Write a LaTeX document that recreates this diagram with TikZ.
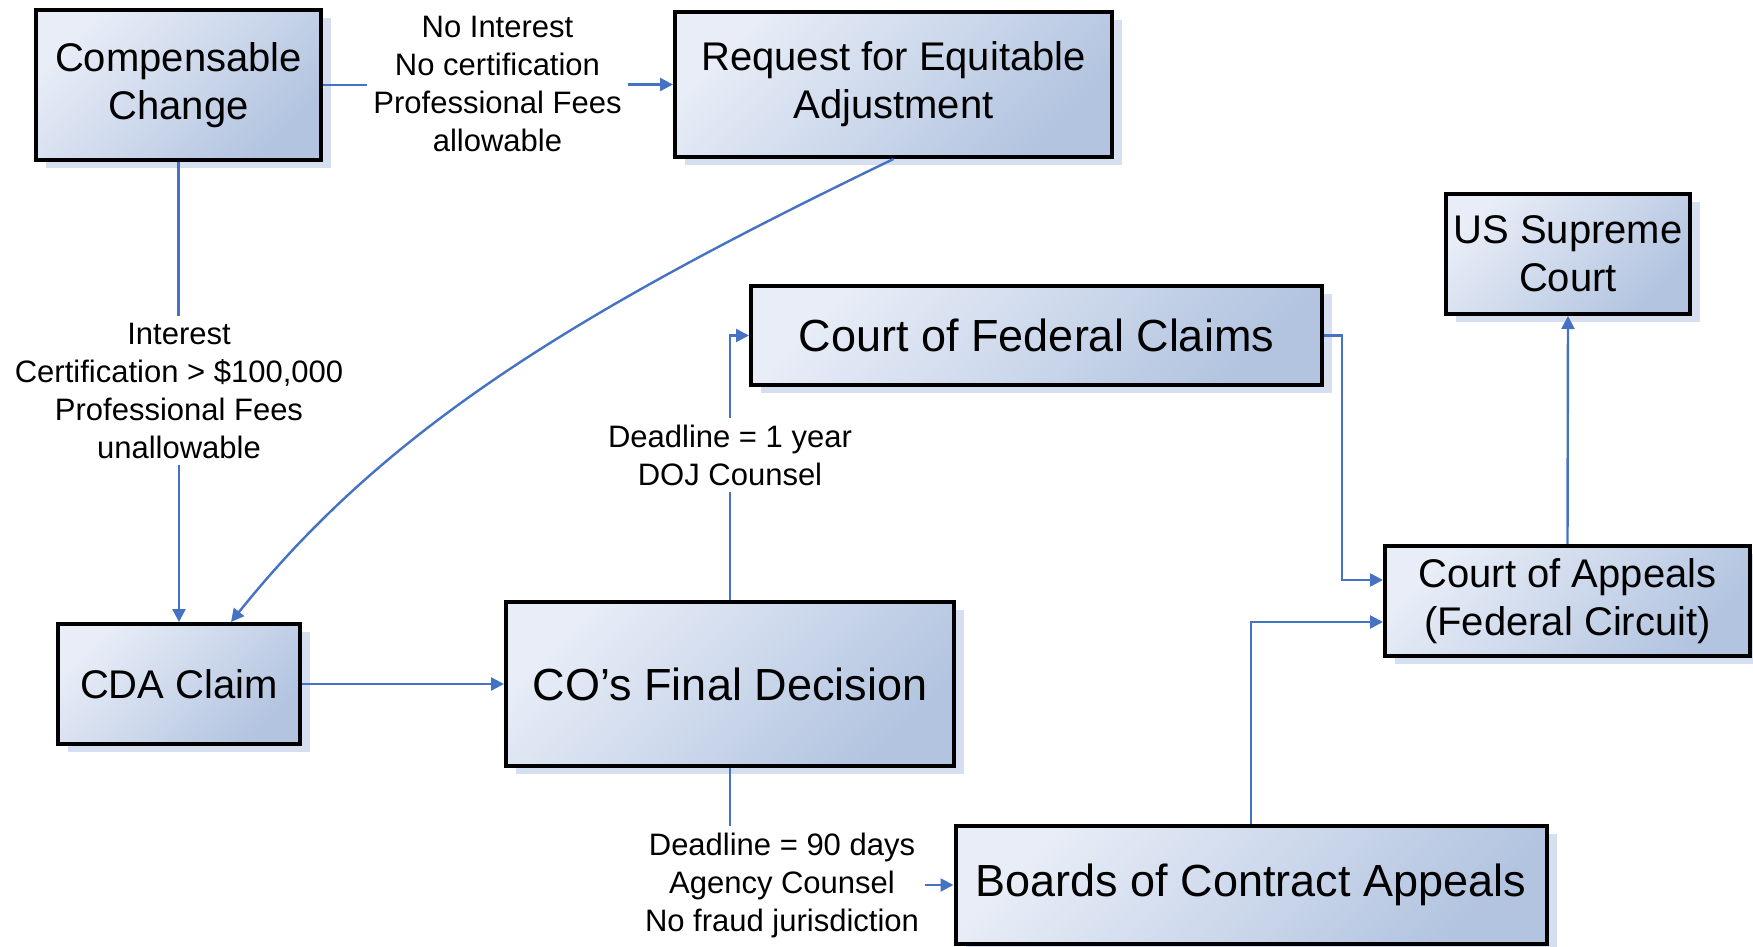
\documentclass[tikz,border=0pt]{standalone}
\usepackage{fontspec}
\setmainfont{Liberation Sans}
\usetikzlibrary{arrows.meta,shadows}

\definecolor{boxlight}{RGB}{232,237,247}
\definecolor{boxdark}{RGB}{178,196,224}
\definecolor{boxshadow}{RGB}{214,223,240}
\definecolor{link}{RGB}{70,114,196}

\tikzset{
  box/.style={rectangle, draw=black, line width=2pt, inner sep=0pt, align=center,
    top color=boxlight, bottom color=boxdark, shading angle=45,
    drop shadow={shadow xshift=5pt, shadow yshift=-4pt, fill=boxshadow, draw=none, opacity=1},
    font=\fontsize{20pt}{24pt}\selectfont},
  bigbox/.style={box, font=\fontsize{22.5pt}{27pt}\selectfont},
  lbl/.style={inner sep=3pt, align=center, font=\fontsize{15.5pt}{19pt}\selectfont},
  conn/.style={draw=link, line width=1.2pt},
  arr/.style={conn, -{Triangle[length=6.5pt,width=6.5pt]}}
}

\begin{document}
\begin{tikzpicture}[x=0.5pt, y=-0.5pt]
  \useasboundingbox (0,0) rectangle (1753,947);

  % boxes
  \node[box, minimum width=142.5pt, minimum height=75pt] (cc) at (178.5,85) {Compensable\\Change};
  \node[box, minimum width=218.5pt, minimum height=72.5pt] (rea) at (893.5,84.5) {Request for Equitable\\Adjustment};
  \node[box, minimum width=122pt, minimum height=60pt] (usc) at (1568,254) {US Supreme\\Court};
  \node[bigbox, minimum width=285.5pt, minimum height=49.5pt] (cfc) at (1036.5,335.5) {Court of Federal Claims};
  \node[box, minimum width=182.5pt, minimum height=55pt] (coa) at (1567.5,601) {Court of Appeals\\(Federal Circuit)};
  \node[box, minimum width=121pt, minimum height=60pt] (cda) at (179,684) {CDA Claim};
  \node[bigbox, minimum width=224pt, minimum height=82pt] (co) at (730,684) {CO’s Final Decision};
  \node[bigbox, minimum width=295.5pt, minimum height=59pt] (boards) at (1251,885) {Boards of Contract Appeals};

  % connector labels
  \node[lbl] (l1) at (497.5,83.5) {No Interest\\No certification\\Professional Fees\\allowable};
  \node[lbl] (l2) at (179,390.5) {Interest\\Certification > \$100,000\\Professional Fees\\unallowable};
  \node[lbl] (l3) at (730,455) {Deadline = 1 year\\DOJ Counsel};
  \node[lbl] (l4) at (782,885) {Deadline = 90 days\\Agency Counsel\\No fraud jurisdiction};

  % connectors
  \draw[conn] (cc.east) -- (cc.east -| l1.west);
  \draw[arr] (l1.east |- rea.west) -- (rea.west);
  \draw[conn] (cc.south) -- (cc.south |- l2.north);
  \draw[arr] (l2.south -| cda.north) -- (cda.north);
  \draw[arr] (rea.south) .. controls +(-315,152) and +(156,-195) .. ([xshift=26pt]cda.north);
  \draw[arr] (cda.east) -- (co.west);
  \draw[conn] (co.north) -- (l3.south);
  \draw[arr] (l3.north) |- (cfc.west);
  \draw[conn] (co.south) -- (co.south |- l4.north);
  \draw[arr] (l4.east) -- (l4.east -| boards.west);
  \draw[arr] (cfc.east) -- ++(9pt,0) |- ([yshift=10.5pt]coa.west);
  \draw[arr] (boards.north) |- ([yshift=-10.5pt]coa.west);
  \draw[arr] (coa.north) -- (usc.south);
\end{tikzpicture}
\end{document}
